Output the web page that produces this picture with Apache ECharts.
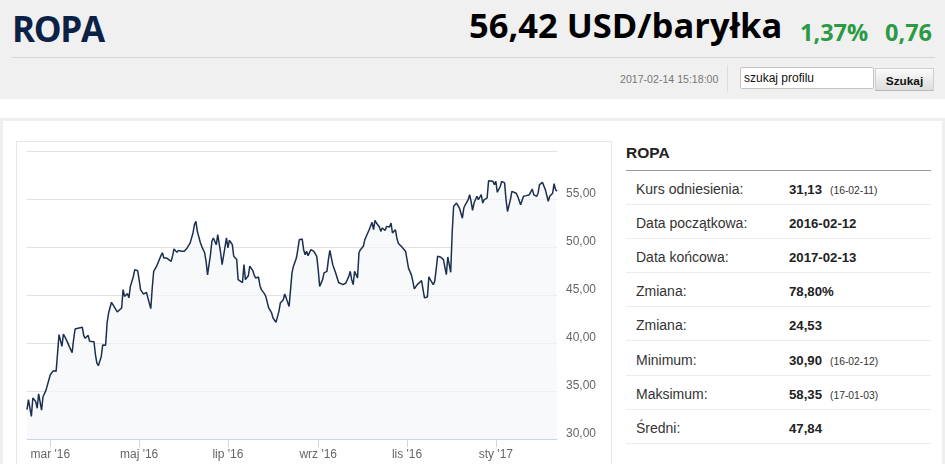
<!DOCTYPE html>
<html>
<head>
<meta charset="utf-8">
<script src="https://cdn.jsdelivr.net/npm/echarts@6/dist/echarts.min.js"></script>
<style>
  html, body { margin:0; padding:0; }
  body { width:945px; height:464px; overflow:hidden; position:relative; background:#fff;
         font-family:'Liberation Sans', Arial, sans-serif; color:#333; }
  .abs { position:absolute; white-space:nowrap; }
  #header { left:0; top:0; width:945px; height:99px; background:#f0f0f0; }
  #title { left:12px; top:11px; font-family:'Open Sans'; font-weight:700; font-size:35px; line-height:36px; color:#0b2246; letter-spacing:-1.3px; }
  #price { left:469px; top:8px; font-family:'Open Sans'; font-weight:700; font-size:34.5px; line-height:34px; color:#000; }
  .green { font-family:'Open Sans'; font-weight:700; font-size:23.5px; line-height:23px; color:#2a9a45; }
  #hline { left:12px; top:57px; width:923px; height:1px; background:#d6d6d6; }
  #stamp { left:620px; top:73px; font-size:10.6px; line-height:12px; color:#777; }
  #vsep { left:727px; top:65px; width:1px; height:27px; background:#dcdcdc; }
  #search { left:740px; top:67px; width:129px; height:20px; background:#fff; border:1px solid #c4c4c4; border-radius:2px; font-size:12px; line-height:20px; color:#111; padding-left:3px; box-sizing:content-box; }
  #btn { left:875px; top:68px; width:57px; height:21px; border:1px solid #cfcfcf; border-bottom-color:#b9b9b9; background:linear-gradient(#fbfbfb,#dcdcdc); font-weight:700; font-size:11.8px; line-height:24px; text-align:center; color:#111; }
  #box { left:0; top:118px; width:939px; height:360px; border:3px solid #efefef; border-bottom:none; }
  #chartbox { left:16px; top:141px; width:594px; height:330px; border:1px solid #e6e6e6; border-bottom:none; }
  #chart { left:17px; top:142px; width:593px; height:322px; }
  #ptitle { left:626px; top:145px; font-weight:700; font-size:15.5px; line-height:16px; color:#222; }
  #pline { left:626px; top:170px; width:305px; height:1px; background:#9a9a9a; }
  .row { position:absolute; left:626px; width:305px; height:33px; border-bottom:1px solid #ececec; font-size:14px; line-height:37px; }
  .row .lab { position:absolute; left:10px; top:0; color:#333; }
  .row .val { position:absolute; left:163px; top:0; font-weight:700; font-size:13.2px; color:#222; }
  .row .val small { font-weight:400; font-size:10.3px; margin-left:8px; color:#333; }
</style>
</head>
<body>
<div id="header" class="abs"></div>
<div id="title" class="abs">ROPA</div>
<div id="price" class="abs">56,42 USD/baryłka</div>
<div id="pct" class="abs green" style="left:800px;top:21px;">1,37%</div>
<div id="chg" class="abs green" style="left:885px;top:21px;">0,76</div>
<div id="hline" class="abs"></div>
<div id="stamp" class="abs">2017-02-14 15:18:00</div>
<div id="vsep" class="abs"></div>
<div id="search" class="abs">szukaj profilu</div>
<div id="btn" class="abs">Szukaj</div>

<div id="box" class="abs"></div>
<div id="chartbox" class="abs"></div>
<div id="chart" class="abs"></div>

<div id="ptitle" class="abs">ROPA</div>
<div id="pline" class="abs"></div>
<div id="rows"></div>

<script>
// ---- data ----
// day offsets counted from 2016-02-14 (date of each sampled point)
const startDate = [2016, 1, 14];
const dayOffsets = [
0,1,3,4,6,7,8,10,11,13,14,16,17,18,20,21,22,24,25,27,28,29,31,32,33,35,36,38,39,40,42,43,44,46,47,48,49,51,52,54,55,56,58,59,60,62,63,65,66,67,69,70,71,73,74,76,77,78,80,81,82,83,85,86,87,89,90,92,93,94,
95,96,97,99,100,101,103,104,106,107,108,110,111,112,114,115,116,117,119,120,122,123,124,126,127,128,130,131,133,134,135,137,138,139,141,142,144,145,146,148,149,150,152,153,155,156,157,159,160,161,163,164,166,167,168,169,171,172,173,174,176,177,178,180,181,182,183,185,186,187,
189,190,191,192,193,195,196,197,199,200,201,203,204,206,207,208,210,211,212,214,215,217,218,219,221,222,223,224,225,227,228,229,231,232,234,235,236,237,238,239,240,242,243,244,246,247,249,250,251,253,254,255,257,258,260,261,262,264,265,266,268,269,271,272,273,275,276,277,279,280,
281,282,284,285,286,288,289,291,292,293,295,296,297,299,300,301,303,304,305,306,307,309,310,312,313,314,316,317,318,320,321,322,323,325,326,328,329,330,332,333,334,336,337,339,340,341,343,344,345,347,348,350,351,352,354,355,356,358,359,361,362,363,364
];
const prices = [
33.06,34.1,32.36,34.27,33.9,33.2,34.7,33.0,34.4,35.07,35.2,36.7,36.8,37.1,37.05,38.96,40.87,39.65,40.94,40.35,40.28,39.65,39.0,40.35,41.46,41.53,41.46,41.63,40.76,40.49,40.8,40.17,40.07,40.14,38.8,37.9,37.64,38.6,39.8,39.76,42.1,43.1,44.24,44.0,43.82,43.23,43.2,43.65,45.56,44.86,45.14,44.7,45.9,46.9,47.64,47.53,46.6,45.56,45.1,44.97,45.28,45.38,43.58,45.7,47.47,48.0,48.0,49.1,49.4,48.85,
48.7,48.85,48.75,48.5,49.1,49.8,49.44,49.65,49.55,49.72,49.55,49.9,50.0,50.4,51.46,52.33,52.67,51.63,50.49,50.07,49.4,48.5,47.1,49.2,50.6,50.94,50.24,51.28,49.4,48.16,48.3,50.94,49.9,50.7,50.24,49.03,48.7,46.6,46.4,46.3,48.16,46.6,47.0,48.0,47.57,47.1,46.77,46.87,45.97,45.56,45.14,44.86,43.65,43.47,43.13,42.6,42.15,42.08,43.3,44.17,44.5,45.1,44.7,43.8,45.56,47.3,48.0,48.85,49.72,50.76,
50.83,49.72,49.2,49.55,49.1,49.72,49.72,49.55,49.03,47.64,45.9,46.6,47.3,47.47,48.68,49.65,48.16,48.0,47.3,46.3,46.4,46.08,45.97,46.25,46.94,47.47,46.6,46.08,47.47,46.77,49.4,49.72,50.07,50.76,51.46,51.8,51.98,52.57,51.8,52.78,52.5,52.08,51.63,51.98,51.74,52.15,52.08,52.5,51.46,51.8,50.94,50.4,50.07,50.24,49.55,48.68,47.8,47.1,46.42,45.63,46.08,46.25,46.5,45.56,44.7,44.8,46.9,46.6,46.08,46.42,
47.64,49.03,48.96,48.85,48.68,47.12,48.96,47.36,51.46,54.24,54.58,54.4,54.06,53.0,54.06,54.4,54.93,55.45,54.76,53.82,54.58,55.28,54.93,55.45,54.58,54.93,55.1,56.9,56.7,56.84,56.5,56.84,55.7,56.3,56.84,56.67,54.93,53.7,54.93,55.8,55.6,55.6,55.28,54.4,54.24,55.28,55.35,55.2,55.45,56.04,55.45,55.28,55.6,56.5,56.74,56.67,55.97,54.76,55.28,55.6,56.6,55.97,55.8
];
const axisMinDate = '2016-02-14';
const axisMaxDate = '2017-02-12';
const tickDates  = ['2016-03-01','2016-05-01','2016-07-01','2016-09-01','2016-11-01','2017-01-01'];
const tickLabels = ["mar '16","maj '16","lip '16","wrz '16","lis '16","sty '17"];
const yTicks = [30, 35, 40, 45, 50, 55, 60];

// side table
const tableLabels = ['Kurs odniesienia:','Data początkowa:','Data końcowa:','Zmiana:','Zmiana:','Minimum:','Maksimum:','Średni:'];
const tableValues = ['31,13','2016-02-12','2017-02-13','78,80%','24,53','30,90','58,35','47,84'];
const tableNotes  = ['(16-02-11)','','','','','(16-02-12)','(17-01-03)',''];

// ---- build table ----
const rowsEl = document.getElementById('rows');
tableLabels.forEach((lab, i) => {
  const r = document.createElement('div');
  r.className = 'row';
  r.style.top = (171 + i * 34.1) + 'px';
  r.innerHTML = '<span class="lab">' + lab + '</span><span class="val">' + tableValues[i] +
    (tableNotes[i] ? '<small>' + tableNotes[i] + '</small>' : '') + '</span>';
  rowsEl.appendChild(r);
});

// ---- chart ----
function ts(s) { const p = s.split('-').map(Number); return new Date(p[0], p[1] - 1, p[2]).getTime(); }
const seriesData = dayOffsets.map((d, i) => [new Date(startDate[0], startDate[1], startDate[2] + d).getTime(), prices[i]]);
const tickTs = tickDates.map(ts);

const chart = echarts.init(document.getElementById('chart'), null, { renderer: 'canvas' });
chart.setOption({
  animation: false,
  grid: { left: 10, right: 53, top: 9, bottom: 25, containLabel: false },
  xAxis: {
    type: 'value',
    min: ts(axisMinDate),
    max: ts(axisMaxDate),
    axisLine: { show: true, onZero: false, lineStyle: { color: '#ccd6eb', width: 1 } },
    axisTick: { show: true, length: 8, lineStyle: { color: '#ccd6eb' }, customValues: tickTs },
    axisLabel: {
      customValues: tickTs,
      margin: 10,
      color: '#666',
      fontSize: 12,
      fontFamily: 'Liberation Sans',
      formatter: function (v) {
        let best = 0;
        for (let i = 0; i < tickTs.length; i++) {
          if (Math.abs(tickTs[i] - v) < Math.abs(tickTs[best] - v)) best = i;
        }
        return tickLabels[best];
      }
    },
    splitLine: { show: false }
  },
  yAxis: {
    type: 'value',
    position: 'right',
    min: yTicks[0],
    max: yTicks[yTicks.length - 1],
    interval: 5,
    axisLine: { show: false },
    axisTick: { show: false },
    axisLabel: {
      margin: 9,
      color: '#666',
      fontSize: 12,
      lineHeight: 10,
      fontFamily: 'Liberation Sans',
      verticalAlign: 'bottom',
      formatter: function (v) { return v >= 60 ? '' : v.toFixed(2).replace('.', ','); }
    },
    splitLine: { show: true, lineStyle: { color: '#e2e2e2', width: 1 } }
  },
  series: [{
    type: 'line',
    data: seriesData,
    showSymbol: false,
    symbol: 'none',
    lineStyle: { color: '#1c2f4f', width: 1.5 },
    areaStyle: { color: '#f4f6f9', origin: 'start' },
    silent: true
  }]
});
</script>
</body>
</html>
